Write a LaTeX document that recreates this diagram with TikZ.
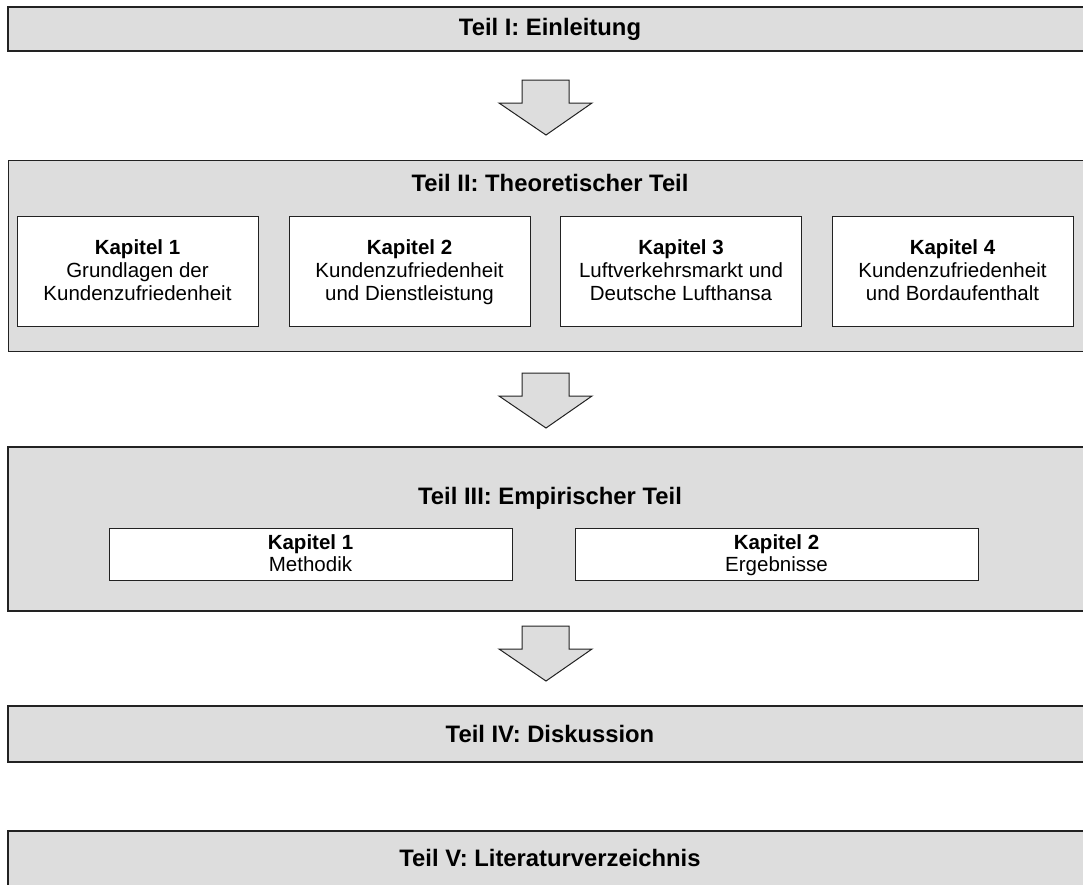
\documentclass[tikz,border=0pt]{standalone}
\usepackage{fontspec}
\setmainfont{Liberation Sans}
\definecolor{barfill}{HTML}{DDDDDD}
\definecolor{edge}{HTML}{222222}
\tikzset{
  bar/.style={draw=edge, fill=barfill, line width=1.6pt, minimum width=1084pt, inner sep=0pt, anchor=center},
  partbox/.style={draw=edge, fill=barfill, line width=1pt, minimum width=1084pt, inner sep=0pt, anchor=center},
  title/.style={font=\fontsize{23.8}{27}\selectfont\bfseries, inner sep=0pt},
  kap/.style={draw=edge, fill=white, line width=1pt, inner sep=0pt},
  kaptext/.style={inner sep=0pt, align=center, yshift=-2pt, font=\fontsize{20.5}{22.6}\selectfont},
  blockarrow/.style={draw=edge, fill=barfill, line width=1pt, line join=miter},
  pics/downarrow/.style={code={
    \draw[blockarrow] (-24,0) -- (23,0) -- (23,23) -- (46,23) -- (0,55) -- (-47,23) -- (-24,23) -- cycle;
  }}
}
\begin{document}
\begin{tikzpicture}[x=1pt,y=-1pt]
\useasboundingbox (0,0) rectangle (1083,884);
\clip (0,0) rectangle (1083,884);
% Teil I
\node[bar, minimum height=44pt] (t1) at (550,29) {};
\node[title] (t1l) at (550,29) {Teil I: Einleitung};
\pic at (546,80) {downarrow};
% Teil II
\node[partbox, minimum height=191pt] (t2) at (550,255.5) {};
\node[title] (t2l) at (550,183) {Teil II: Theoretischer Teil};
\node[kap, minimum width=241pt, minimum height=110pt] (k21) at (137.5,271) {};
\node[kaptext] (k21t) at (k21) {\strut\textbf{Kapitel 1}\\\strut Grundlagen der\\\strut Kundenzufriedenheit};
\node[kap, minimum width=241pt, minimum height=110pt] (k22) at (409.5,271) {};
\node[kaptext] (k22t) at (k22) {\strut\textbf{Kapitel 2}\\\strut Kundenzufriedenheit\\\strut und Dienstleistung};
\node[kap, minimum width=241pt, minimum height=110pt] (k23) at (681,271) {};
\node[kaptext] (k23t) at (k23) {\strut\textbf{Kapitel 3}\\\strut Luftverkehrsmarkt und\\\strut Deutsche Lufthansa};
\node[kap, minimum width=241pt, minimum height=110pt] (k24) at (952.5,271) {};
\node[kaptext] (k24t) at (k24) {\strut\textbf{Kapitel 4}\\\strut Kundenzufriedenheit\\\strut und Bordaufenthalt};
\pic at (546,373) {downarrow};
% Teil III
\node[bar, minimum height=164pt] (t3) at (550,529) {};
\node[title] (t3l) at (550,498) {Teil III: Empirischer Teil};
\node[kap, minimum width=403pt, minimum height=52pt] (k31) at (310.5,554) {};
\node[kaptext] (k31t) at (k31) {\strut\textbf{Kapitel 1}\\\strut Methodik};
\node[kap, minimum width=403pt, minimum height=52pt] (k32) at (776.5,554) {};
\node[kaptext] (k32t) at (k32) {\strut\textbf{Kapitel 2}\\\strut Ergebnisse};
\pic at (546,626) {downarrow};
% Teil IV
\node[bar, minimum height=56pt] (t4) at (550,734) {};
\node[title] (t4l) at (550,734) {Teil IV: Diskussion};
% Teil V
\node[bar, minimum height=58pt] (t5) at (550,860) {};
\node[title] (t5l) at (550,858) {Teil V: Literaturverzeichnis};
\end{tikzpicture}
\end{document}
